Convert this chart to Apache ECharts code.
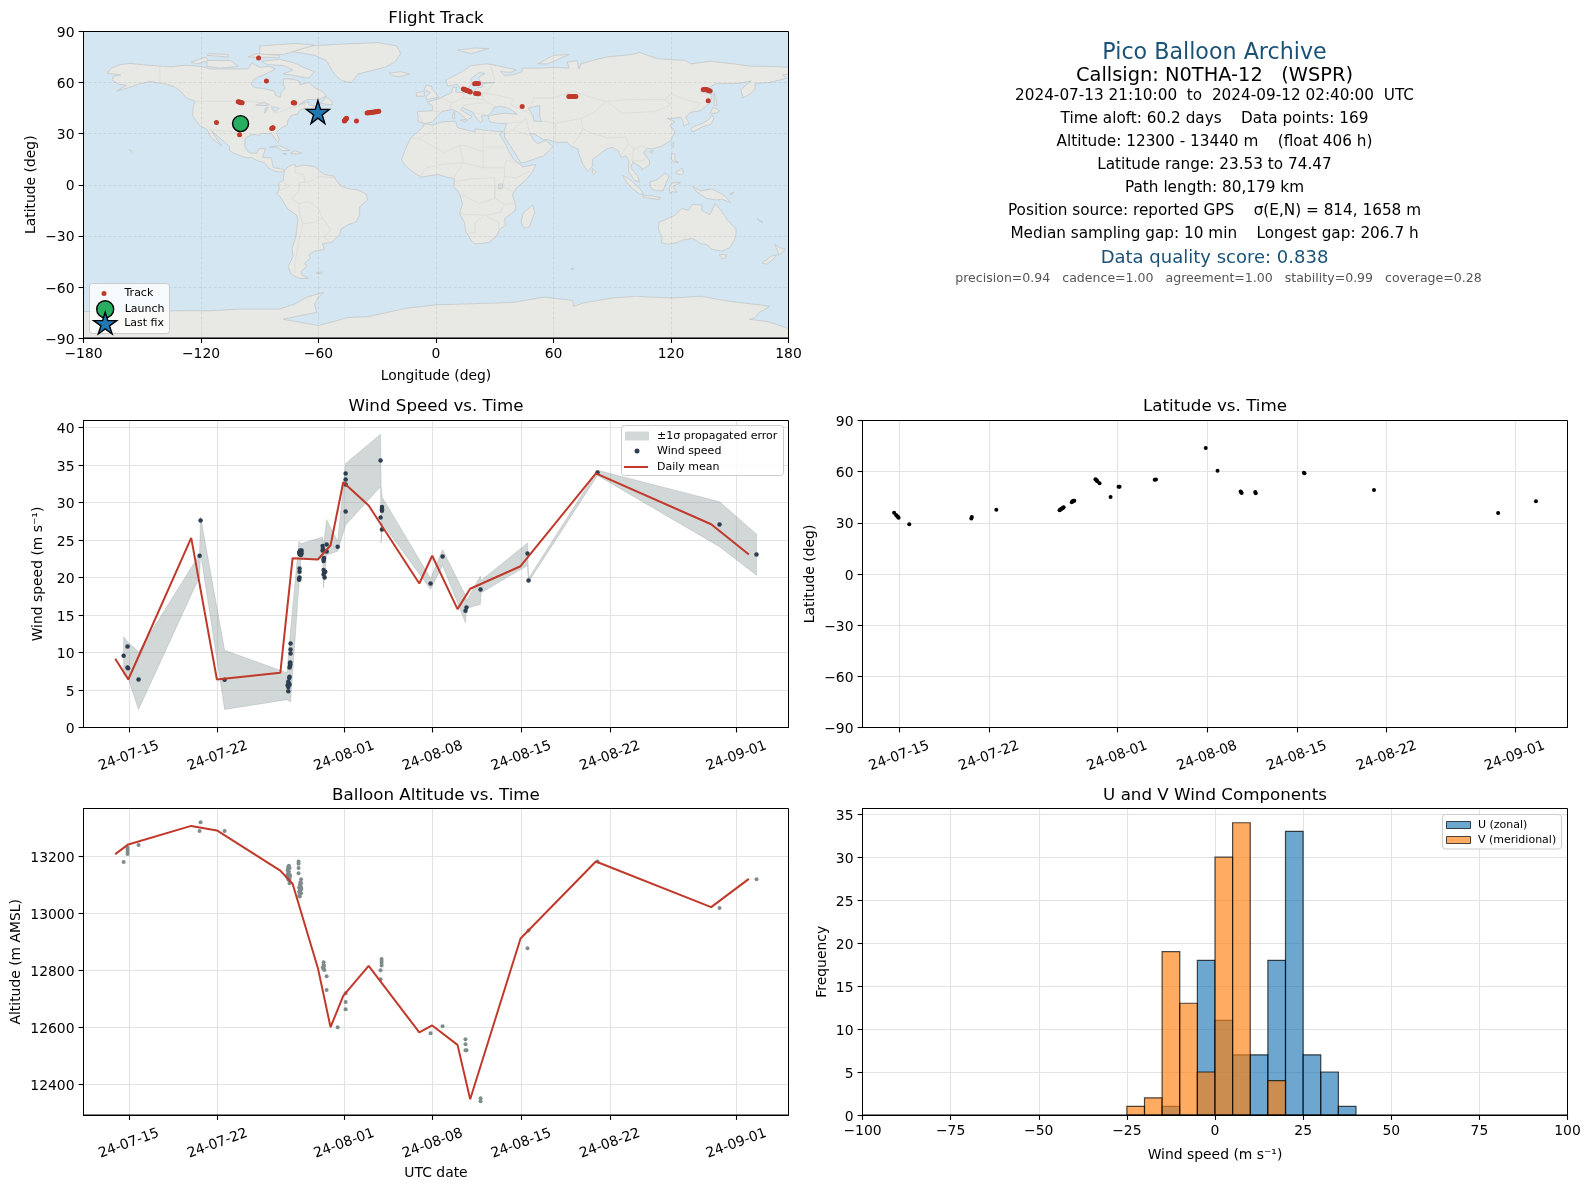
<!DOCTYPE html>
<html><head><meta charset="utf-8">
<style>html,body{margin:0;padding:0;background:#fff}#c{width:1590px;height:1189px}</style>
<script src="https://cdn.jsdelivr.net/npm/echarts@6/dist/echarts.min.js"></script>
</head><body><div id="c"></div>
<script>
// ---------- tick data (time is expressed as "day of July 2024": 32 = 1 Aug)
const tickDays = [15,22,32,39,46,53,63];
const tickLabels = ['24-07-15','24-07-22','24-08-01','24-08-08','24-08-15','24-08-22','24-09-01'];
const windTicks = [0,5,10,15,20,25,30,35,40];
const altTicks = [12400,12600,12800,13000,13200];
const histYTicks = [0,5,10,15,20,25,30,35];

// ---------- text panel
const infoLines = [
 ['Pico Balloon Archive',53,22.2,'#1a5276',1214.5],
 ['Callsign: N0THA-12   (WSPR)',75.5,19.4,'#000',1214.5],
 ['2024-07-13 21:10:00  to  2024-09-12 02:40:00  UTC',96.5,15.28,'#000',1214.5],
 ['Time aloft: 60.2 days    Data points: 169',119.5,15.28,'#000',1214.5],
 ['Altitude: 12300 - 13440 m    (float 406 h)',142.5,15.28,'#000',1214.5],
 ['Latitude range: 23.53 to 74.47',165,15.28,'#000',1214.5],
 ['Path length: 80,179 km',188.5,15.28,'#000',1214.5],
 ['Position source: reported GPS    σ(E,N) = 814, 1658 m',211.5,15.28,'#000',1214.5],
 ['Median sampling gap: 10 min    Longest gap: 206.7 h',234.5,15.28,'#000',1214.5],
 ['Data quality score: 0.838',258.5,18,'#1a5276',1214.5],
 ['precision=0.94   cadence=1.00   agreement=1.00   stability=0.99   coverage=0.28',278.5,12.55,'#555',1218.5]
];

// ---------- track
const trackPts = [[-100.3,36.2],[-99.8,35.6],[-112.1,36.5],[-100.3,29.4],[-83.9,33.0],[-83.5,33.3],[-83.2,33.5],[-72.9,48.2],[-72.5,48.2],[-72.2,48],
 [-101,48.8],[-100.5,48.6],[-100,48.4],[-99.5,48.2],[-99,48.2],[-90.6,74.5],[-86.6,61],
 [-46.8,37.4],[-46.6,37.8],[-46.4,38.1],[-46.1,38.4],[-45.9,38.8],[-45.7,39],[-40.6,37.5],
 [-35.2,42.2],[-34.6,42.3],[-34,42.3],[-33.4,42.5],[-32.8,42.6],[-32.2,42.6],[-31.6,42.7],[-31,42.8],[-30.4,42.8],[-29.8,43],[-29.2,43.1],
 [14,56.2],[14.6,56],[15,55.8],[15.6,55.4],[16,55.2],[16.6,55],[17.2,54.7],[17.5,54.4],
 [19.7,59.3],[20.4,59.4],[21,59.4],[21.7,59.4],[20.2,53.6],[21,53.5],[21.8,53.5],
 [44,45.9],[67.8,51.9],[68.6,51.8],[69.4,51.8],[70,51.8],[70.8,51.8],[71.4,51.9],
 [136.5,56],[137.2,56],[138,55.9],[138.6,55.7],[139.2,55.4],[140,55.1],[139,49.4]];
const launchPt = [[-99.8,35.9]];
const lastFixPt = [[-60.3,42.7]];

// ---------- land outlines [lon,lat]
const landPolys = [
 [[-168,65.5],[-166,68.3],[-162,70.3],[-156.5,71.3],[-150,70.5],[-141,69.7],[-135,69.3],[-128,70.2],[-120,69.5],[-115,68],[-108,68],[-102,68],[-96,68],[-94,71.5],[-90,69],[-85,69.5],[-82,68],[-87,65],[-93,62],[-94.5,59],[-92.5,57],[-88,56.5],[-82.5,55],[-82,52.5],[-79.5,51.3],[-79,54.5],[-77,56.5],[-78,59],[-78,62.3],[-73,62],[-70,61],[-69.5,58.8],[-65,60],[-62,57],[-58,54.8],[-56,52],[-60,50],[-66,50],[-70,47],[-65,48.8],[-65,47],[-61,46],[-64,44.5],[-67,45],[-70,43.5],[-70.5,41.7],[-74,40.6],[-75.5,38],[-76,35],[-79,33.5],[-81.5,30.5],[-80,26.5],[-81,25],[-82.7,28],[-84,30],[-89,30.2],[-90,29],[-94,29.5],[-97.3,27.5],[-97.7,22.5],[-95.5,18.8],[-91.5,18.5],[-90.5,21],[-87,21.5],[-88,18],[-88.5,16],[-84,15.8],[-83.5,12],[-83,10],[-79.5,9.5],[-77.3,8.5],[-78,7.5],[-80.5,7.5],[-83,8.3],[-85.7,10],[-87.5,13],[-91,14],[-94,16],[-97,15.8],[-102,18],[-105.5,20],[-105.5,22.5],[-109,26],[-112.5,29.5],[-114.7,31.7],[-112,27],[-109.5,23],[-112,25],[-115,28],[-117,32.5],[-120.5,34.5],[-122.5,37.5],[-124.3,40.5],[-124,46],[-123,49],[-127.5,51],[-130,54.5],[-133.5,57.5],[-138,59],[-146,60.7],[-152,59],[-157,57],[-163,55],[-158,58.5],[-162,59],[-165,61],[-165,63.5],[-161,64.5]],
 [[-73,78.2],[-65,81.5],[-50,82.5],[-30,83.5],[-20,81.5],[-18,77],[-21,72],[-26,69],[-33,67],[-40,65],[-43,60],[-48,61],[-52,65],[-54,69],[-56,73],[-62,76]],
 [[-80,73.7],[-72,71.5],[-68,69],[-62,66.5],[-65,62.5],[-70,63.5],[-74,64.5],[-78,65],[-73,67.5],[-78,70],[-86,70.5],[-89,72.5]],
 [[-117,73],[-105,73],[-101,69.5],[-110,68.5],[-117,69.5]],
 [[-90,76.5],[-78,76.5],[-62,82],[-72,83],[-90,81.5]],
 [[-125,72],[-118,75],[-116,73],[-122,71]],
 [[-96,75],[-80,74.7],[-80,76],[-92,77]],
 [[-117,76],[-106,75],[-106,76.5],[-116,77]],
 [[-59,47.7],[-53,46.8],[-53,49],[-56,51.5]],
 [[-85,22],[-80,23],[-74.5,20.2],[-78,20],[-82,22.2]],
 [[-74.3,18.5],[-72,20],[-68.5,18.5],[-71,18]],
 [[-78.3,18.4],[-76.3,18.2],[-77,17.8]],
 [[-156.5,20.8],[-155,19.8],[-155.7,19]],
 [[-77.3,8.5],[-75,11],[-72,12],[-71.5,10.5],[-68,11.5],[-62,10.7],[-60,8.5],[-57,6],[-52,5],[-50,1],[-48,-1],[-44,-2.5],[-40,-3],[-35.5,-5.5],[-35,-9],[-39,-13],[-39,-18],[-41,-22],[-45,-23.5],[-48.5,-26],[-49,-29],[-53.5,-34],[-58,-34.5],[-57,-38],[-62,-39],[-65,-41],[-64,-43],[-67,-46],[-66,-48],[-69,-51],[-68.5,-53],[-65,-55],[-70,-55],[-74,-52.5],[-75.5,-48],[-73,-42],[-73.5,-37.5],[-71.5,-30],[-70.5,-20],[-71,-18],[-76,-14],[-79,-8],[-81.3,-5],[-80,-2.5],[-80.5,1],[-78,2.5],[-77.5,7]],
 [[-61,-51.5],[-58,-51.3],[-58.5,-52.3],[-61,-52]],
 [[-5.9,35.8],[-2,35],[3,36.9],[10,37.3],[11,33.5],[15,32.3],[20,31],[20,32.8],[25,32],[32,31.3],[34.3,31.3],[32.5,29.5],[35.5,24],[37.3,19.5],[39.5,15],[43,12],[44,10.5],[51,11.9],[49,7],[46,3],[41,-2],[39,-6],[40.5,-11],[40.5,-15],[35,-20],[35.5,-24],[32.5,-26],[31,-30],[27,-34],[20,-34.8],[18,-33],[15,-27],[14.5,-22],[12,-17],[13.5,-11],[12,-5],[9,-1],[9.5,3.5],[6,4.3],[1,6],[-4,5.2],[-7.5,4.4],[-13,8.5],[-16.5,12.5],[-17.5,14.7],[-16,20],[-13,27.5],[-9.5,31],[-6.5,34]],
 [[49.3,-12],[50.5,-16],[47.5,-25],[45,-25.5],[43.5,-22],[44.5,-16.5]],
 [[-9,37],[-9.5,43],[-2,43.5],[-1.5,46],[-4.5,48.5],[1.5,50.5],[4,52],[8,54],[8.5,57],[10.5,57.5],[10,54.5],[14,54],[19,54.5],[21,57],[24,57.5],[23.5,59.5],[30,60],[23,60],[21.5,63],[25,65.5],[22,65.8],[17.5,62],[18.5,60],[16,56],[13,55.5],[11,59],[6,58],[5,61.5],[12,65.5],[18,70],[26,71],[31,70],[41,67.5],[38,66],[33,66.5],[35,64.2],[40,64.7],[44,66.5],[44,68.5],[54,68.5],[60,69],[68,68.5],[67,72],[72,73],[73,68],[74,71],[80,73],[87,75],[100,76.5],[104,77.7],[113,74],[127,73],[130,71],[140,72.5],[152,71],[160,69.7],[170,69.5],[180,69],[180,65],[177,64.5],[179,62.5],[170,60],[163,59.5],[163,56],[160,53],[156.7,51],[155.7,56],[161,61],[155,59.5],[143,59.3],[135,54.7],[141,53],[140,48],[135,43.5],[130,42.5],[127.5,39.8],[129.3,36],[126.5,34.5],[126,37.5],[125,39.7],[121.5,39],[118,39],[122,37],[119.5,35],[122,31],[120,26],[115,22.5],[110,21],[108,21.5],[106,19],[109,14],[109,11.5],[105,8.7],[105,10],[100.5,13.5],[99.5,10],[103,5],[104,1.5],[101,3],[98.3,8],[98.5,14],[97,17],[94.5,16],[93,20],[90,22],[87,21],[82,16.5],[80,15],[80,11],[77.5,8],[75,12],[73,18],[72.5,21],[69,22.5],[67,25],[61,25],[57,26.5],[55,26.5],[50,30],[48,30],[50,26],[52,24],[56,26],[59.8,22.5],[55,17],[45,13],[43.3,13],[39,21],[35,28],[34.9,32],[36,36],[32,36],[27.5,37],[26.5,40],[29,41],[35,42],[41.5,41.5],[37,45],[33,46],[30,45.5],[28,42],[26,40.5],[23,40.5],[24,38],[22.5,36.5],[19.5,41],[19,42.5],[13.5,45.5],[12.5,44],[18.5,40],[16,38],[12,42],[8.5,44.3],[3,43],[0,39.5],[-2,36.7],[-5.5,36]],
 [[-5,50],[1.5,51.3],[0,53.5],[-2,56],[-2,57.7],[-5,58.6],[-6,56],[-3,54],[-5,52]],
 [[-10,52],[-6,52],[-6,55],[-10,54]],
 [[-24,65.5],[-18,66.4],[-13.5,65],[-18.5,63.4],[-22.5,64]],
 [[11,79],[20,80.3],[27,80],[18,77]],
 [[52,71],[57,71],[68,76.5],[60,76]],
 [[142,54],[143,50],[143.5,46.5],[142,46.5],[142,50]],
 [[130,33],[132,34.5],[136,36],[139.5,38.5],[141,41],[142,39],[140.5,35.5],[136,34],[131,31]],
 [[140,42],[141.5,45.5],[145,43.5],[143,42]],
 [[120,23],[121.5,25],[121,22]],
 [[109,19.5],[111,20],[110,18.3]],
 [[120,16],[120.5,18.5],[122,18],[122,14],[124,13],[121,13.5]],
 [[122,7],[125.5,9.7],[126.5,7],[125,5.8]],
 [[95.3,5.5],[98,4],[104,-2],[106,-5.7],[104,-5.5],[100,-2],[97,2]],
 [[105.5,-6.5],[110,-6.5],[114.5,-7.5],[114,-8.7],[106,-7.5]],
 [[109,1.5],[113,3],[117,7],[119,5],[117.5,1],[116,-3.5],[113,-3.5],[110,-2.5]],
 [[119.5,-5],[119,-2],[120.5,1],[125,1.5],[121,-1],[123,-4.5],[121,-4]],
 [[131,-1],[135,-3.5],[141,-2.5],[147,-6],[150.5,-10.5],[146,-8.5],[143,-9],[138,-8],[133,-4]],
 [[114,-22],[122,-18],[125.5,-14],[129,-15],[131,-11.5],[136,-12],[135.5,-15],[140,-17.5],[142.5,-11],[145.5,-15],[149,-21],[153.3,-26],[153,-31],[150,-37],[146,-39],[141,-38],[138,-35],[135.5,-34.7],[131,-31.5],[126,-32.5],[123,-34],[118,-35],[115,-34],[115.5,-31],[113.5,-26]],
 [[144.7,-41],[148,-41],[148,-43],[146,-43.5]],
 [[166.5,-46],[171,-42],[174,-41],[172,-44],[169,-46.7]],
 [[173,-35],[175.5,-37],[178.5,-37.8],[175,-41.5],[174.5,-39]],
 [[80,9.7],[81.8,7.5],[80.5,6],[79.8,8]],
 [[12.5,38],[15.5,38.2],[15,36.7]],
 [[8.3,39],[9.5,39],[9.5,43],[8.7,42]],
 [[164,-20],[167,-22],[165.5,-21.5]],
 [[69,-49],[70.5,-49.5],[69,-49.8]],
 [[150,-5.5],[152,-4.2],[151,-6]],
 [[-180,-74.5],[-130,-74],[-115,-74],[-100,-73],[-85,-73],[-80,-73],[-72,-70],[-66,-66],[-57.5,-63.2],[-60,-66],[-62,-70],[-61,-75],[-70,-77],[-78,-79],[-60,-82.7],[-45,-78],[-35,-77.5],[-25,-75],[-15,-72.5],[0,-70.5],[15,-70],[30,-69.5],[40,-69],[55,-66],[70,-68],[70,-71.5],[75,-69.5],[90,-66.5],[102,-65.5],[120,-66.5],[135,-65.5],[150,-68.5],[165,-70.5],[170.5,-71.5],[165,-75],[163,-78],[160,-79],[170,-80.5],[180,-84.5],[180,-90],[-180,-90]]
];
const waterPolys = [
 [[47,45],[53,46.5],[53,40],[54,37],[50,37.5],[49.5,40.5]],
 [[-92,46.7],[-88,48.5],[-85,47],[-87,46.5]],
 [[-87.5,42],[-85.5,45.5],[-87,45.5]],
 [[-84,46],[-80,45],[-82,43],[-83.5,44]],
 [[32,-2.5],[34,-2],[34,0.5],[32,0.3]]
];
const borderLines = [
 [[-123,49],[-95,49],[-89,48],[-84,46.5],[-82.5,42],[-79,43],[-75,45],[-70,46],[-67,47.5],[-67,45]],
 [[-141,69.7],[-141,60],[-135,58.5],[-130,55]],
 [[-117,32.5],[-108,31.5],[-106,31.8],[-101,29.5],[-97.3,26]],
 [[-51.5,4],[-60,5],[-64,2],[-70,1],[-70,-4],[-74,-8],[-70,-11],[-65,-10],[-60,-14],[-58,-20],[-55,-24],[-54,-27],[-57.5,-30.5],[-53.5,-34]],
 [[-69.5,-17.5],[-68,-23],[-70,-33],[-72,-45],[-72,-52]],
 [[-70,-11],[-69.5,-17.5]],[[-58,-20],[-62,-22],[-68,-23]],
 [[-72,11.5],[-72,7],[-67.5,6],[-67,1.5]],[[-80,-3.5],[-75,-1],[-78,1.5]],
 [[-8.7,27.3],[-1,32],[-2,35]],[[-13,27.5],[-8.7,27.3],[4,19],[12,23],[15,23],[24,19.5],[24,31.5]],
 [[25,22],[36.5,22]],[[12,23],[14,13],[3,12],[-5,10],[-8,5]],[[14,13],[24,10],[24,20]],
 [[24,10],[35,10],[36,14.5],[43,12]],[[35,10],[35,5],[41,4],[48,8]],[[35,5],[34,-1],[40,-4.7]],
 [[12,-5],[22,-11],[30,-8],[30,4]],[[34,-1],[30,-2],[30,-8],[35,-11.5],[40.5,-11]],
 [[12,-17],[25,-18],[33,-16],[35,-11.5]],[[25,-18],[20,-22],[20,-28],[16,-28.5]],[[25,-18],[32,-22],[32,-26]],
 [[9,4],[14,13]],[[9.5,2],[18,3.5],[30,4]],
 [[28,69.5],[30,62],[28,57],[24,54],[32,52.5],[40,50],[38,47],[48,42]],
 [[48,46],[50,51],[60,51],[70,55],[80,51],[87,49],[98,50],[108,50],[117,50],[120,53.5],[127,50],[135,48],[131,43]],
 [[87,49],[80,42],[74,39],[70,38],[61,36],[54,37.5]],[[74,39],[75,33],[74,30],[70,24]],
 [[75,33],[80,30],[88,27.5],[97,28],[98,24],[101,21],[105,23],[108,21.5]],[[98,24],[94,16]],
 [[101,21],[100,14],[105,14],[107,15]],[[61,25],[61,36]],[[48,30],[46,39],[44,37],[36,36]],
 [[44,37],[39,32],[35,30]],[[39,32],[48,29]],[[-2,43.5],[3,42.5]],[[3,51],[8,48],[7,44]],
 [[8,48],[14,51],[14,54]],[[14,51],[24,50],[24,54]],[[24,50],[30,46],[28,42]],[[13.5,46.5],[22,48],[24,48]],
 [[20,42],[26,41]],[[-9,42],[-7,37]],[[87,49],[95,42],[112,43],[120,47],[117,50]]
];

// ---------- wind
const windPts = [[14.58,9.56],[14.89,10.8],[14.89,8.0],[14.93,7.9],[15.76,6.4],[20.58,22.9],[20.66,27.6],[22.56,6.36],
 [27.59,4.84],[27.59,5.4],[27.54,5.64],[27.69,5.73],[27.59,6.09],[27.62,5.9],[27.69,6.76],[27.66,6.6],[27.69,8.0],[27.72,8.2],[27.75,8.36],[27.75,8.67],[27.72,8.6],[27.77,9.87],[27.77,10.4],[27.77,11.2],
 [28.43,19.8],[28.48,20],[28.45,19.7],[28.48,20.76],[28.48,21.2],[28.45,23.3],[28.5,23.1],[28.54,23.2],[28.59,23.0],[28.59,23.5],[28.54,23.6],[28.64,23.6],[28.64,23.2],[28.5,23.5],
 [30.3,23.6],[30.3,24.2],[30.33,23.8],[30.38,22.4],[30.38,22.2],[30.41,22.6],[30.38,21],[30.38,20.4],[30.46,20],[30.51,20.76],[30.43,20.7],[30.62,24.4],[30.62,23.47],[31.49,24.1],
 [32.12,28.8],[32.12,32.4],[32.12,33.07],[32.12,33.87],[34.88,35.6],[34.88,28],[34.99,26.4],[34.99,28.9],[34.99,29.1],[34.99,29.4],
 [38.83,19.2],[39.78,22.8],[41.59,15.56],[41.67,16],[42.78,18.4],[46.49,23.2],[46.57,19.6],[52.02,34],[61.66,27.07],[64.58,23.07]];
const windMean = [[13.92,9.16],[14.95,6.4],[19.92,25.29],[21.95,6.4],[26.96,7.29],[27.93,22.58],[29.93,22.4],[30.93,24.3],[31.93,32.7],[33.94,29.6],[37.94,19.2],[38.96,22.9],[40.96,15.78],[41.96,18.5],[45.94,21.5],[51.89,33.87],[61,27.1],[63.98,23.07]];
const bandDays  = [14.58,14.89,15.76,20.58,20.66,22.56,27.48,27.77,28.43,28.59,30.3,30.38,30.62,31.49,32.12,34.88,34.93,35.01,38.83,39.78,41.59,41.67,42.76,42.82,46.49,46.57,52.02,61.66,64.58];
const bandUpper = [12.09,11.42,10.09,23.1,28.1,10.3,7.3,13,24.8,24.5,25.4,24.5,27.7,24.8,35.2,39.1,32,30.7,19.87,23.7,17.6,16.9,20.2,19.6,24.6,19.9,34.3,30.1,25.8];
const bandLower = [7.07,6.76,2.4,20.1,23.2,2.4,3.7,3.4,19,22.5,22.5,18.6,23,23.5,27,32.1,24.6,27.2,18.44,21.6,13.96,15.9,16.4,17.96,21.6,19.4,33.6,24.1,20.3];

// ---------- latitude
const latPts = [[14.6,35.9],[14.75,34.6],[14.85,33.8],[14.9,33.4],[14.95,33.0],[15.78,29.2],[20.62,32.6],[20.66,33.4],[22.57,37.6],[27.5,37.4],[27.55,37.7],[27.6,38],[27.65,38.2],[27.72,38.6],[27.78,38.9],[27.82,39.1],[28.45,42.1],[28.5,42.5],[28.55,42.8],[28.6,42.9],[28.65,43.0],[30.3,55.6],[30.35,55.2],[30.4,54.8],[30.45,54.4],[30.62,53.2],[31.48,45.1],[32.1,51.2],[32.18,51.2],[34.92,55.3],[35.02,55.4],[38.9,73.9],[39.82,60.6],[41.62,48.4],[41.66,48],[41.7,47.5],[42.76,48.1],[42.8,47.4],[46.55,59.3],[46.6,59],[52.02,49.2],[61.7,35.7],[64.65,42.7]];

// ---------- altitude
const altPts = [[14.58,13179],[14.89,13207],[14.89,13214],[14.89,13222],[14.89,13229],[15.76,13239],[20.58,13288],[20.66,13319],[22.56,13288],
 [27.54,13125],[27.54,13135],[27.54,13150],[27.58,13120],[27.58,13140],[27.58,13155],[27.58,13162],[27.64,13115],[27.64,13128],[27.64,13145],[27.64,13166],[27.69,13105],[27.69,13120],[27.69,13135],[27.69,13158],[27.74,13130],
 [28.4,13181],[28.4,13173],[28.4,13158],[28.4,13140],[28.45,13060],[28.45,13075],[28.45,13090],[28.5,13058],[28.5,13070],[28.5,13085],[28.5,13100],[28.55,13080],[28.55,13095],[28.55,13108],[28.6,13070],[28.6,13090],[28.6,13105],[28.6,13119],[28.62,13085],
 [30.38,12828],[30.38,12819],[30.32,12810],[30.44,12801],[30.36,12805],[30.42,12815],[30.62,12779],[30.62,12730],[31.49,12600],[32.12,12719],[32.12,12688],[32.12,12663],[34.88,12800],[34.88,12768],[34.96,12839],[34.96,12832],[34.96,12825],[34.96,12816],
 [38.83,12579],[39.78,12603],[41.59,12558],[41.59,12540],[41.59,12519],[41.67,12519],[42.78,12351],[42.78,12340],[46.49,12877],[46.57,12939],[52.02,13181],[61.66,13018],[64.58,13119]];
const altMean = [[13.92,13207],[14.95,13241],[19.92,13306],[21.95,13290],[26.96,13149],[27.93,13103],[29.93,12807],[30.93,12600],[31.93,12710],[33.94,12815],[37.94,12582],[38.96,12606],[40.96,12538],[41.96,12347],[45.94,12911],[51.89,13181],[61,13021],[63.98,13120]];

// ---------- histogram (bin width 5)
const binStarts = [-25,-20,-15,-10,-5,0,5,10,15,20,25,30,35];
const uCounts   = [0,0,1,0,18,11,7,7,18,33,7,5,1];
const vCounts   = [1,2,19,13,5,30,34,0,4,0,0,0,0];
const binWidth = 5;

// ---------- layout
const FONT = 'DejaVu Sans';
const TICK = 13.9, LEG = 11;
const G = {
 map:{left:83.5,top:31.5,width:705,height:306.5},
 wind:{left:83.5,top:420.5,width:705,height:307},
 alt:{left:83.5,top:808.5,width:705,height:306.5},
 lat:{left:862.5,top:420.5,width:705,height:307},
 hist:{left:862.5,top:808.5,width:705,height:306.5}
};
const gridOrder = ['map','wind','lat','alt','hist'];
const SPLIT = {show:true,lineStyle:{color:'#e3e3e3',width:1.1}};
const MAPSPLIT = {show:true,lineStyle:{color:'rgba(110,120,125,0.2)',width:0.7,type:[3,2]}};
const tickFmt = {show:true,length:4.9,lineStyle:{color:'#000',width:1.1}};
const lineBlack = {show:true,onZero:false,lineStyle:{color:'#000',width:1}};
const labelBase = {color:'#000',fontFamily:FONT,fontSize:TICK};
const yLabelBase = {...labelBase,rich:{a:{color:'#000',fontFamily:FONT,fontSize:TICK,padding:[4,0,0,0]}}};
const nameStyle = {color:'#000',fontFamily:FONT,fontSize:TICK};
const minus = v => String(v).replace('-','\u2212');
const yLabel = v => '{a|'+minus(v)+'}';

function timeAxis(i,min,name){
 return {type:'value',gridIndex:i,min,max:67.11,name:name||'',nameLocation:'middle',nameGap:51,nameTextStyle:nameStyle,
  axisLine:lineBlack,axisTick:{...tickFmt,customValues:tickDays},
  splitLine:{...SPLIT,customValues:tickDays},
  axisLabel:{...labelBase,customValues:tickDays,rotate:20,align:'center',verticalAlign:'middle',margin:28.5,hideOverlap:false,
   formatter:v=>tickLabels[tickDays.indexOf(v)]||''}};
}
function valueAxis(i,min,max,ticks,name,gap){
 return {type:'value',gridIndex:i,min,max,name,nameLocation:'middle',nameGap:gap,nameRotate:90,nameTextStyle:nameStyle,
  axisLine:lineBlack,axisTick:{...tickFmt,customValues:ticks},
  splitLine:{...SPLIT,customValues:ticks},
  axisLabel:{...yLabelBase,customValues:ticks,margin:9,formatter:yLabel}};
}
function oneLegend(name,left,cy,w,h,icon,style,textX){
 const d={name,itemStyle:style};
 if(icon) d.icon=icon;
 const hh=Math.max(h,13);
 return {data:[d],left,top:cy-hh/2,itemWidth:w,itemHeight:h,padding:0,itemGap:0,selectedMode:false,z:100,
  textStyle:{fontFamily:FONT,fontSize:LEG,color:'#000',padding:[0,0,0,Math.max(0,textX-left-w-5)]}};
}
const STAR='path://M50 0L61 35L98 35L68 57L79 91L50 70L21 91L32 57L2 35L39 35Z';

function polySeries(name,xi,polys,fill,stroke,z){
 return {type:'custom',name,xAxisIndex:xi,yAxisIndex:xi,z,silent:true,
  data:polys.map((_,i)=>[i]),
  renderItem:(p,api)=>({type:'polygon',shape:{points:polys[p.dataIndex].map(c=>api.coord(c))},style:{fill,stroke,lineWidth:0.8}})};
}
function lineItems(name,xi,lines,stroke,z){
 return {type:'custom',name,xAxisIndex:xi,yAxisIndex:xi,z,silent:true,
  data:lines.map((_,i)=>[i]),
  renderItem:(p,api)=>({type:'polyline',shape:{points:lines[p.dataIndex].map(c=>api.coord(c))},style:{fill:'none',stroke,lineWidth:0.7}})};
}
function histSeries(name,counts,fill,z){
 return {type:'custom',name,xAxisIndex:4,yAxisIndex:4,z,silent:true,
  itemStyle:{color:fill},
  data:binStarts.map((b,i)=>[b,counts[i]]),
  renderItem:(p,api)=>{
   const b=api.value(0),c=api.value(1);
   if(!c) return null;
   const a=api.coord([b,c]),e=api.coord([b+binWidth,0]);
   return {type:'rect',shape:{x:a[0],y:a[1],width:e[0]-a[0],height:e[1]-a[1]},
    style:{fill,stroke:'rgba(0,0,0,0.7)',lineWidth:1.2}};
  }};
}
const bandPoly = bandDays.map((d,i)=>[d,bandUpper[i]]).concat(bandDays.map((d,i)=>[d,bandLower[i]]).reverse());

const titleItems = [
 ['Flight Track',436,18.5],['Wind Speed vs. Time',436,406.5],['Latitude vs. Time',1215,406.5],
 ['Balloon Altitude vs. Time',436,795.5],['U and V Wind Components',1215,795.5]
].map(([text,x,y])=>({text,left:x,top:y,textAlign:'center',textVerticalAlign:'middle',padding:0,
  textStyle:{fontFamily:FONT,fontSize:16.7,fontWeight:'normal',color:'#000'}}));
const infoItems = infoLines.map(([text,y,size,color,x])=>({text,left:x,top:y,textAlign:'center',textVerticalAlign:'middle',padding:0,
  textStyle:{fontFamily:FONT,fontSize:size,fontWeight:'normal',color,lineHeight:size*1.2}}));

const frames = gridOrder.map(k=>({type:'rect',silent:true,z:90,shape:{x:G[k].left,y:G[k].top,width:G[k].width,height:G[k].height},style:{fill:'none',stroke:'#000',lineWidth:1}}));
const legendBoxes = [
 {x:89.5,y:283.5,width:80,height:50},{x:621.5,y:425.5,width:162,height:50},{x:1442.5,y:814.5,width:119,height:34.5}
].map(s=>({type:'rect',silent:true,z:95,shape:{...s,r:3},style:{fill:'rgba(255,255,255,0.8)',stroke:'#ccc',lineWidth:1}}));

const chart = echarts.init(document.getElementById('c'),null,{renderer:'canvas'});
chart.setOption({
 animation:false,backgroundColor:'#fff',
 textStyle:{fontFamily:FONT},
 title:titleItems.concat(infoItems),
 graphic:{elements:frames.concat(legendBoxes)},
 grid:gridOrder.map(k=>({...G[k],show:k==='map',backgroundColor:'#d4e6f1',borderWidth:0,containLabel:false})),
 xAxis:[
  {type:'value',gridIndex:0,min:-180,max:180,interval:60,z:3,name:'Longitude (deg)',nameLocation:'middle',nameGap:31,nameTextStyle:nameStyle,
   axisLine:lineBlack,axisTick:tickFmt,splitLine:MAPSPLIT,axisLabel:{...labelBase,margin:9,formatter:minus}},
  timeAxis(1,11.41),
  timeAxis(2,12.135),
  timeAxis(3,11.41,'UTC date'),
  {type:'value',gridIndex:4,min:-100,max:100,interval:25,name:'Wind speed (m s\u207B\u00B9)',nameLocation:'middle',nameGap:33,nameTextStyle:nameStyle,
   axisLine:lineBlack,axisTick:tickFmt,splitLine:SPLIT,axisLabel:{...labelBase,margin:9,formatter:minus}}
 ],
 yAxis:[
  {type:'value',gridIndex:0,min:-90,max:90,interval:30,z:3,name:'Latitude (deg)',nameLocation:'middle',nameRotate:90,nameGap:45,nameTextStyle:nameStyle,
   axisLine:lineBlack,axisTick:tickFmt,splitLine:MAPSPLIT,axisLabel:{...yLabelBase,margin:9,formatter:yLabel}},
  valueAxis(1,0,40.93,windTicks,'Wind speed (m s\u207B\u00B9)',38),
  valueAxis(2,-90,90,[-90,-60,-30,0,30,60,90],'Latitude (deg)',45),
  valueAxis(3,12292,13367,altTicks,'Altitude (m AMSL)',60),
  valueAxis(4,0,35.66,histYTicks,'Frequency',33)
 ],
 legend:[
  oneLegend('Track',101.5,294.5,5,5,'circle',{color:'#c0392b'},124.5),
  oneLegend('Launch',96,308.5,17,17,'circle',{color:'#27ae60',borderColor:'#000',borderWidth:1.4},124),
  oneLegend('Last fix',93,323,23,23,STAR,{color:'#1f77b4',borderColor:'#000',borderWidth:1.4},123.5),
  oneLegend('\u00B11\u03C3 propagated error',625,437,24,9,'rect',{color:'rgba(127,140,141,0.35)'},657),
  oneLegend('Wind speed',634.5,452,5,5,'circle',{color:'#2c3e50'},657),
  oneLegend('Daily mean',624,468,24,2,'rect',{color:'#c0392b'},657),
  oneLegend('U (zonal)',1446,826,24,7,'rect',{color:'rgba(31,119,180,0.65)',borderColor:'rgba(0,0,0,0.7)',borderWidth:1},1477.5),
  oneLegend('V (meridional)',1446,841,24,7,'rect',{color:'rgba(255,127,14,0.65)',borderColor:'rgba(0,0,0,0.7)',borderWidth:1},1477.5)
 ],
 series:[
  polySeries('Land',0,landPolys,'#e8e8e4','#c4c8c9',1),
  polySeries('Water',0,waterPolys,'#d4e6f1','#c4c8c9',1),
  lineItems('Borders',0,borderLines,'#d8d9d6',1),
  {type:'scatter',name:'Track',xAxisIndex:0,yAxisIndex:0,z:5,symbolSize:5,silent:true,itemStyle:{color:'#c0392b',opacity:1},data:trackPts},
  {type:'scatter',name:'Launch',xAxisIndex:0,yAxisIndex:0,z:6,symbolSize:16,silent:true,itemStyle:{color:'#27ae60',borderColor:'#000',borderWidth:1.4,opacity:1},data:launchPt},
  {type:'scatter',name:'Last fix',xAxisIndex:0,yAxisIndex:0,z:6,symbol:STAR,symbolSize:23,silent:true,itemStyle:{color:'#1f77b4',borderColor:'#000',borderWidth:1.4,opacity:1},data:lastFixPt},

  {type:'custom',name:'\u00B11\u03C3 propagated error',xAxisIndex:1,yAxisIndex:1,z:2,silent:true,itemStyle:{color:'rgba(127,140,141,0.35)'},
   data:[[bandDays[0],bandUpper[0]]],
   renderItem:(p,api)=>({type:'polygon',shape:{points:bandPoly.map(c=>api.coord(c))},style:{fill:'rgba(127,140,141,0.35)',stroke:'rgba(127,140,141,0.25)',lineWidth:1}})},
  {type:'scatter',name:'Wind speed',xAxisIndex:1,yAxisIndex:1,z:3,symbolSize:4.5,silent:true,itemStyle:{color:'#2c3e50',opacity:1},data:windPts},
  {type:'line',name:'Daily mean',xAxisIndex:1,yAxisIndex:1,z:4,showSymbol:false,symbol:'none',silent:true,lineStyle:{color:'#c0392b',width:2},itemStyle:{color:'#c0392b'},data:windMean},

  {type:'scatter',name:'Latitude',xAxisIndex:2,yAxisIndex:2,z:3,symbolSize:4,silent:true,itemStyle:{color:'#000',opacity:1},data:latPts},

  {type:'scatter',name:'Altitude',xAxisIndex:3,yAxisIndex:3,z:3,symbolSize:4,silent:true,itemStyle:{color:'#7f8c8d',opacity:1},data:altPts},
  {type:'line',name:'Altitude daily mean',xAxisIndex:3,yAxisIndex:3,z:4,showSymbol:false,symbol:'none',silent:true,lineStyle:{color:'#c0392b',width:2},itemStyle:{color:'#c0392b'},data:altMean},

  histSeries('U (zonal)',uCounts,'rgba(31,119,180,0.65)',3),
  histSeries('V (meridional)',vCounts,'rgba(255,127,14,0.65)',4)
 ]
});
</script></body></html>
